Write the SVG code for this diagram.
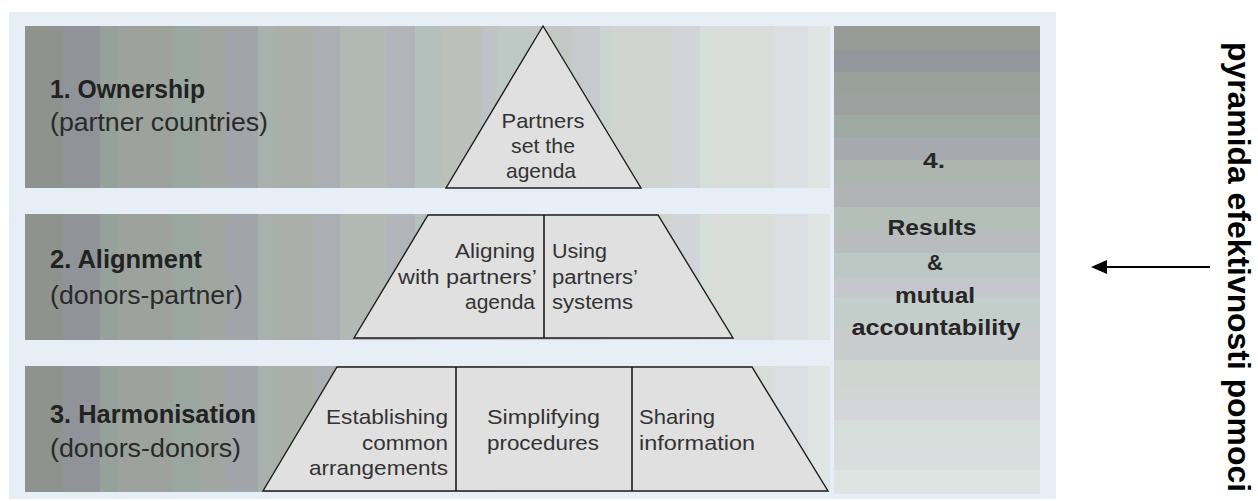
<svg xmlns="http://www.w3.org/2000/svg" width="1258" height="501" viewBox="0 0 1258 501">
<style>
.lbl{font-family:"Liberation Sans",Arial,Helvetica,sans-serif;font-size:25px;fill:#2a2a2a}
.b{font-weight:bold;fill:#222}
.pt{font-family:"Liberation Sans",Arial,Helvetica,sans-serif;font-size:21px;fill:#333}
.mid{font-size:20px}
.rc{font-family:"Liberation Sans",Arial,Helvetica,sans-serif;font-size:22px;font-weight:bold;fill:#262626;text-anchor:middle}
.shape{fill:#e0e0e0;stroke:#1e1e1e;stroke-width:1.4;stroke-linejoin:miter}
.div{stroke:#1e1e1e;stroke-width:1.6}
.title{font-family:"Liberation Sans",Arial,Helvetica,sans-serif;font-size:32px;font-weight:bold;fill:#000}
</style>
<defs>
<linearGradient id="bandFill" gradientUnits="userSpaceOnUse" x1="25" y1="0" x2="830" y2="0">
<stop offset="0" stop-color="#8e938d"/><stop offset="0.0472" stop-color="#8e938d"/>
<stop offset="0.0472" stop-color="#91939a"/><stop offset="0.0932" stop-color="#91939a"/>
<stop offset="0.0932" stop-color="#95a19a"/><stop offset="0.1155" stop-color="#95a19a"/>
<stop offset="0.1155" stop-color="#9da29c"/><stop offset="0.1826" stop-color="#9da29c"/>
<stop offset="0.1826" stop-color="#9aa7a1"/><stop offset="0.2174" stop-color="#9aa7a1"/>
<stop offset="0.2174" stop-color="#a2a6a1"/><stop offset="0.2509" stop-color="#a2a6a1"/>
<stop offset="0.2509" stop-color="#a1a5aa"/><stop offset="0.2894" stop-color="#a1a5aa"/>
<stop offset="0.2894" stop-color="#a7b2ac"/><stop offset="0.3106" stop-color="#a7b2ac"/>
<stop offset="0.3106" stop-color="#aaafaa"/><stop offset="0.3602" stop-color="#aaafaa"/>
<stop offset="0.3602" stop-color="#abaeb3"/><stop offset="0.3913" stop-color="#abaeb3"/>
<stop offset="0.3913" stop-color="#b2b9b4"/><stop offset="0.4497" stop-color="#b2b9b4"/>
<stop offset="0.4497" stop-color="#b1b4b8"/><stop offset="0.4845" stop-color="#b1b4b8"/>
<stop offset="0.4845" stop-color="#b3c0bb"/><stop offset="0.5168" stop-color="#b3c0bb"/>
<stop offset="0.5168" stop-color="#bbc0bb"/><stop offset="0.5677" stop-color="#bbc0bb"/>
<stop offset="0.5677" stop-color="#bfc3c7"/><stop offset="0.5863" stop-color="#bfc3c7"/>
<stop offset="0.5863" stop-color="#bec9c5"/><stop offset="0.6273" stop-color="#bec9c5"/>
<stop offset="0.6273" stop-color="#c4c8c4"/><stop offset="0.6795" stop-color="#c4c8c4"/>
<stop offset="0.6795" stop-color="#c7cacd"/><stop offset="0.7143" stop-color="#c7cacd"/>
<stop offset="0.7143" stop-color="#cbd4d1"/><stop offset="0.7292" stop-color="#cbd4d1"/>
<stop offset="0.7292" stop-color="#d0d4d0"/><stop offset="0.8037" stop-color="#d0d4d0"/>
<stop offset="0.8037" stop-color="#d1d4d8"/><stop offset="0.8385" stop-color="#d1d4d8"/>
<stop offset="0.8385" stop-color="#d5dedb"/><stop offset="0.8534" stop-color="#d5dedb"/>
<stop offset="0.8534" stop-color="#d9ddda"/><stop offset="0.9304" stop-color="#d9ddda"/>
<stop offset="0.9304" stop-color="#dcdfe1"/><stop offset="0.9727" stop-color="#dcdfe1"/>
<stop offset="0.9727" stop-color="#dee5e2"/><stop offset="1" stop-color="#dee5e2"/>
</linearGradient>
<linearGradient id="colFill" gradientUnits="userSpaceOnUse" x1="0" y1="26" x2="0" y2="494">
<stop offset="0" stop-color="#969b95"/><stop offset="0.0513" stop-color="#969b95"/>
<stop offset="0.0513" stop-color="#93969b"/><stop offset="0.0983" stop-color="#93969b"/>
<stop offset="0.0983" stop-color="#9aa19b"/><stop offset="0.1432" stop-color="#9aa19b"/>
<stop offset="0.1432" stop-color="#9da09f"/><stop offset="0.1902" stop-color="#9da09f"/>
<stop offset="0.1902" stop-color="#9ea9a4"/><stop offset="0.2372" stop-color="#9ea9a4"/>
<stop offset="0.2372" stop-color="#a6aaae"/><stop offset="0.2863" stop-color="#a6aaae"/>
<stop offset="0.2863" stop-color="#adb5b0"/><stop offset="0.3355" stop-color="#adb5b0"/>
<stop offset="0.3355" stop-color="#b1b4b5"/><stop offset="0.3868" stop-color="#b1b4b5"/>
<stop offset="0.3868" stop-color="#b4bfba"/><stop offset="0.4359" stop-color="#b4bfba"/>
<stop offset="0.4359" stop-color="#b9bcbc"/><stop offset="0.4850" stop-color="#b9bcbc"/>
<stop offset="0.4850" stop-color="#bcc6c2"/><stop offset="0.5363" stop-color="#bcc6c2"/>
<stop offset="0.5363" stop-color="#c3c6cb"/><stop offset="0.5791" stop-color="#c3c6cb"/>
<stop offset="0.5791" stop-color="#c3cdc9"/><stop offset="0.6432" stop-color="#c3cdc9"/>
<stop offset="0.6432" stop-color="#c9cccc"/><stop offset="0.7137" stop-color="#c9cccc"/>
<stop offset="0.7137" stop-color="#cfd6d2"/><stop offset="0.7714" stop-color="#cfd6d2"/>
<stop offset="0.7714" stop-color="#d2d5d4"/><stop offset="0.7991" stop-color="#d2d5d4"/>
<stop offset="0.7991" stop-color="#d4d6dc"/><stop offset="0.8419" stop-color="#d4d6dc"/>
<stop offset="0.8419" stop-color="#d6dedc"/><stop offset="0.8996" stop-color="#d6dedc"/>
<stop offset="0.8996" stop-color="#d9dddd"/><stop offset="0.9487" stop-color="#d9dddd"/>
<stop offset="0.9487" stop-color="#dee4e2"/><stop offset="1" stop-color="#dee4e2"/>
</linearGradient>
<marker id="arrowHead" viewBox="0 0 16 14" refX="1" refY="7" markerWidth="16" markerHeight="14" markerUnits="userSpaceOnUse" orient="auto">
<path d="M0,0 L16,7 L0,14 Z" fill="#000"/>
</marker>
</defs>

<rect width="1258" height="501" fill="#ffffff"/>
<rect id="panel" x="9" y="12" width="1047" height="487" fill="#e7eef6"/>

<g id="band1">
<rect x="25" y="26" width="805" height="162" fill="url(#bandFill)"/>
<text class="lbl b" x="50" y="98" textLength="155" lengthAdjust="spacingAndGlyphs">1. Ownership</text>
<text class="lbl" x="50" y="131" textLength="218" lengthAdjust="spacingAndGlyphs">(partner countries)</text>
</g>

<g id="band2">
<rect x="25" y="214" width="805" height="126" fill="url(#bandFill)"/>
<text class="lbl b" x="50" y="268" textLength="152" lengthAdjust="spacingAndGlyphs">2. Alignment</text>
<text class="lbl" x="50" y="304" textLength="193" lengthAdjust="spacingAndGlyphs">(donors-partner)</text>
</g>

<g id="band3">
<rect x="25" y="366" width="805" height="126" fill="url(#bandFill)"/>
<text class="lbl b" x="50" y="423" textLength="206" lengthAdjust="spacingAndGlyphs">3. Harmonisation</text>
<text class="lbl" x="50" y="457" textLength="191" lengthAdjust="spacingAndGlyphs">(donors-donors)</text>
</g>

<g id="results">
<rect x="834" y="26" width="206" height="468" fill="url(#colFill)"/>
<text class="rc" x="934" y="168" textLength="22" lengthAdjust="spacingAndGlyphs">4.</text>
<text class="rc" x="932" y="235" textLength="89" lengthAdjust="spacingAndGlyphs">Results</text>
<text class="rc" x="935" y="270">&amp;</text>
<text class="rc" x="935" y="303" textLength="80" lengthAdjust="spacingAndGlyphs">mutual</text>
<text class="rc" x="936" y="335" textLength="169" lengthAdjust="spacingAndGlyphs">accountability</text>
</g>

<g id="pyramid-top">
<polygon class="shape" points="543,26 446,188 641,188"/>
<text class="pt" x="543" y="128" text-anchor="middle" textLength="83" lengthAdjust="spacingAndGlyphs">Partners</text>
<text class="pt" x="543" y="153" text-anchor="middle" textLength="64" lengthAdjust="spacingAndGlyphs">set the</text>
<text class="pt" x="541" y="178" text-anchor="middle" textLength="70" lengthAdjust="spacingAndGlyphs">agenda</text>
</g>

<g id="pyramid-middle">
<polygon class="shape" points="428,215 658,215 733,338 354,338"/>
<line class="div" x1="544" y1="215" x2="544" y2="338"/>
<text class="pt mid" x="535" y="258" text-anchor="end" textLength="80" lengthAdjust="spacingAndGlyphs">Aligning</text>
<text class="pt mid" x="537" y="284" text-anchor="end" textLength="139" lengthAdjust="spacingAndGlyphs">with partners’</text>
<text class="pt mid" x="535" y="309" text-anchor="end" textLength="70" lengthAdjust="spacingAndGlyphs">agenda</text>
<text class="pt mid" x="552" y="258" textLength="55" lengthAdjust="spacingAndGlyphs">Using</text>
<text class="pt mid" x="552" y="284" textLength="86" lengthAdjust="spacingAndGlyphs">partners’</text>
<text class="pt mid" x="552" y="309" textLength="81" lengthAdjust="spacingAndGlyphs">systems</text>
</g>

<g id="pyramid-bottom">
<polygon class="shape" points="337,367 752,367 828,491 263,491"/>
<line class="div" x1="456" y1="367" x2="456" y2="491"/>
<line class="div" x1="632" y1="367" x2="632" y2="491"/>
<text class="pt" x="448" y="424" text-anchor="end" textLength="122" lengthAdjust="spacingAndGlyphs">Establishing</text>
<text class="pt" x="448" y="450" text-anchor="end" textLength="86" lengthAdjust="spacingAndGlyphs">common</text>
<text class="pt" x="448" y="475" text-anchor="end" textLength="139" lengthAdjust="spacingAndGlyphs">arrangements</text>
<text class="pt" x="487" y="424" textLength="113" lengthAdjust="spacingAndGlyphs">Simplifying</text>
<text class="pt" x="487" y="450" textLength="112" lengthAdjust="spacingAndGlyphs">procedures</text>
<text class="pt" x="639" y="424" textLength="76" lengthAdjust="spacingAndGlyphs">Sharing</text>
<text class="pt" x="639" y="450" textLength="116" lengthAdjust="spacingAndGlyphs">information</text>
</g>

<g id="title">
<text class="title" transform="translate(1228,42) rotate(90)" x="0" y="0" textLength="450" lengthAdjust="spacingAndGlyphs">pyramida efektivnosti pomoci</text>
</g>

<g id="connectors">
<line x1="1210" y1="267" x2="1106" y2="267" stroke="#000" stroke-width="2" marker-end="url(#arrowHead)"/>
</g>
</svg>
